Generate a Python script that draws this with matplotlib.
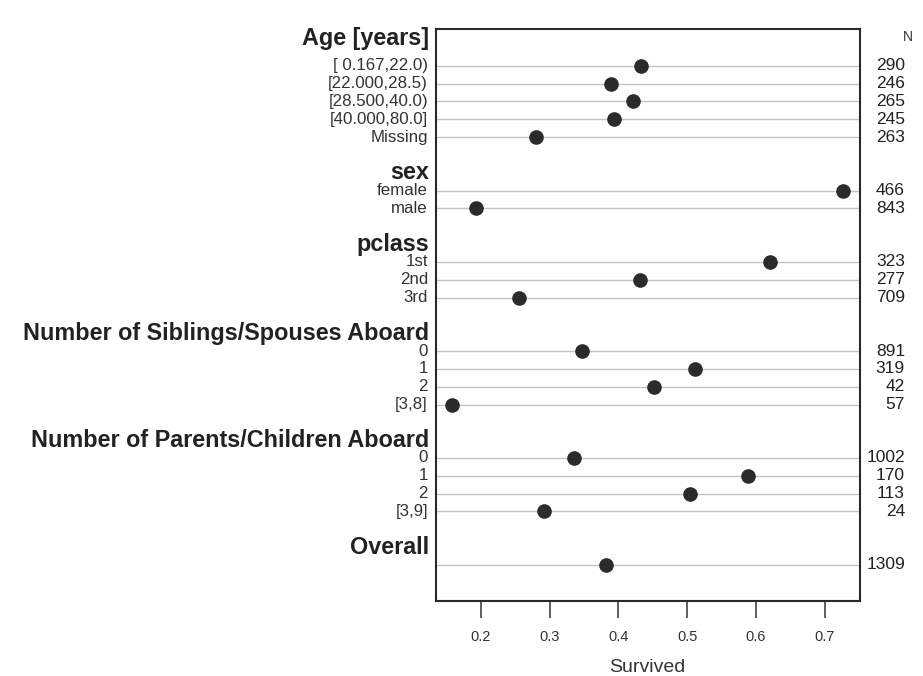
"""Dot chart of survival proportion by passenger characteristics (Titanic)."""
import numpy as np
import matplotlib
matplotlib.use("Agg")
import matplotlib.pyplot as plt
from matplotlib.transforms import blended_transform_factory

plt.rcParams["font.family"] = ["Liberation Sans", "DejaVu Sans"]

group_names = ["Age [years]", "sex", "pclass",
               "Number of Siblings/Spouses Aboard",
               "Number of Parents/Children Aboard", "Overall"]

age_levels = ["[ 0.167,22.0)", "[22.000,28.5)", "[28.500,40.0)", "[40.000,80.0]", "Missing"]
age_surv = [0.433, 0.389, 0.421, 0.394, 0.280]
age_n = [290, 246, 265, 245, 263]

sex_levels = ["female", "male"]
sex_surv = [0.727, 0.193]
sex_n = [466, 843]

pclass_levels = ["1st", "2nd", "3rd"]
pclass_surv = [0.620, 0.431, 0.256]
pclass_n = [323, 277, 709]

sibsp_levels = ["0", "1", "2", "[3,8]"]
sibsp_surv = [0.347, 0.511, 0.452, 0.158]
sibsp_n = [891, 319, 42, 57]

parch_levels = ["0", "1", "2", "[3,9]"]
parch_surv = [0.336, 0.588, 0.504, 0.292]
parch_n = [1002, 170, 113, 24]

overall_levels = [""]
overall_surv = [0.382]
overall_n = [1309]

xticks = [0.2, 0.3, 0.4, 0.5, 0.6, 0.7]

groups = list(zip(group_names,
                  [age_levels, sex_levels, pclass_levels, sibsp_levels, parch_levels, overall_levels],
                  [age_surv, sex_surv, pclass_surv, sibsp_surv, parch_surv, overall_surv],
                  [age_n, sex_n, pclass_n, sibsp_n, parch_n, overall_n]))

fig = plt.figure(figsize=(9.23, 6.76), dpi=100)
ax = fig.add_axes([436 / 923, 75 / 676, 424 / 923, 572 / 676])

trans_lab = blended_transform_factory(ax.transAxes, ax.transData)
cursor = 0
last = 0
for gi, (name, levels, surv, ns) in enumerate(groups):
    if gi > 0:
        cursor += 2
    first = cursor
    ys = np.arange(first, first + len(levels))
    for y, lab, v, n in zip(ys, levels, surv, ns):
        ax.axhline(y, color="#c4c4c4", lw=1.0, zorder=1)
        ax.plot(v, y, "o", color="#2b2b2b", ms=9.5, zorder=3)
        ax.text(-0.019, y, lab, transform=trans_lab, ha="right", va="center",
                fontsize=12.2, color="#333333")
        ax.text(1.106, y, str(n), transform=trans_lab, ha="right", va="center",
                fontsize=12.5, color="#222222")
    shift = 1.16 if gi == 0 else 0.62
    ax.text(-0.017, first - shift, name, transform=trans_lab, ha="right",
            va="baseline", fontsize=16.8, fontweight="bold", color="#222222")
    cursor = ys[-1] + 1
    last = ys[-1]

ax.set_ylim(last + 2.02, -2.06)
ax.set_xlim(0.1351, 0.751)
ax.set_yticks([])
ax.set_xticks(xticks)
ax.set_xticklabels([f"{t:.1f}" for t in xticks], fontsize=10.5, color="#333333")
ax.tick_params(axis="x", length=12, width=1.1, color="#333333", pad=9)
for sp in ax.spines.values():
    sp.set_linewidth(1.5)
    sp.set_color("#2a2a2a")

fig.text(908 / 923, 1 - 37 / 676, "N", ha="center", va="center", fontsize=10, color="#333333")
fig.text(647 / 923, 1 - 667 / 676, "Survived", ha="center", va="center", fontsize=14,
         color="#333333")

fig.savefig("out.png", dpi=100)
